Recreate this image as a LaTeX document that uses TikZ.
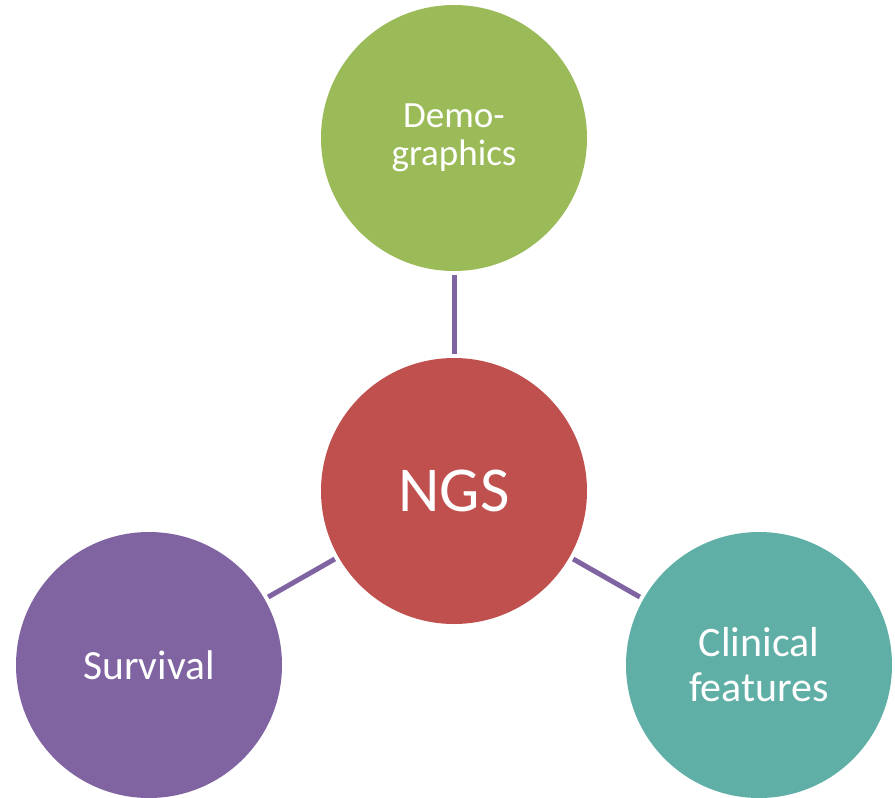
\documentclass[tikz,border=0pt]{standalone}
\usepackage{fontspec}
\setmainfont{Carlito}
\definecolor{cgreen}{HTML}{9BBB59}
\definecolor{cred}{HTML}{C0504D}
\definecolor{cpurple}{HTML}{8064A2}
\definecolor{cteal}{HTML}{5FAFA6}
\begin{document}
\begin{tikzpicture}[x=1pt,y=-1pt,
  bubble/.style={circle,minimum size=266pt,inner sep=0pt,text=white,align=center},
  conn/.style={draw=cpurple,line width=5pt,shorten <=4pt,shorten >=4pt}]
\useasboundingbox (0,0) rectangle (895,798);
\node[bubble,fill=cred,font=\fontsize{64}{70}\selectfont] (ngs) at (454,491) {NGS};
\node[bubble,fill=cgreen,font=\fontsize{37}{38}\selectfont] (demo) at (454,138) {Demo-\\graphics};
\node[bubble,fill=cpurple,font=\fontsize{41.5}{45}\selectfont] (surv) at (149,665) {Survival};
\node[bubble,fill=cteal,font=\fontsize{42}{45}\selectfont] (clin) at (759,665) {Clinical\\features};
\draw[conn] (ngs) -- (demo);
\draw[conn] (ngs) -- (surv);
\draw[conn] (ngs) -- (clin);
\end{tikzpicture}
\end{document}
